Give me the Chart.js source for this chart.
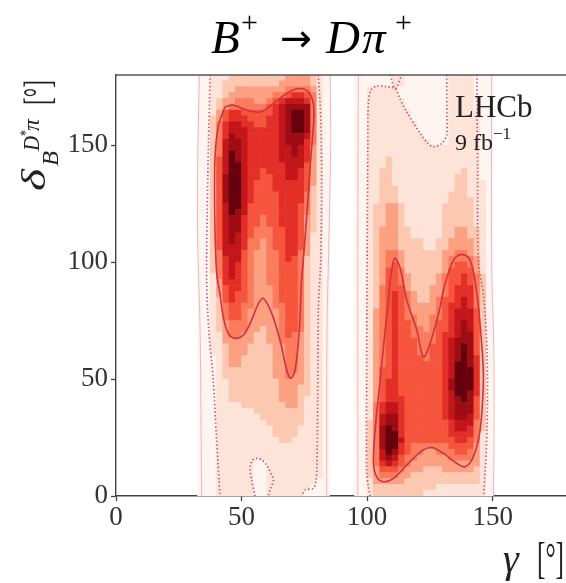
<!DOCTYPE html>
<html>
<head>
<meta charset="utf-8">
<script src="https://cdn.jsdelivr.net/npm/chart.js@4.4.1/dist/chart.umd.min.js"></script>
<style>
  html, body { margin: 0; padding: 0; background: #fff; overflow: hidden; }
  #wrap { width: 570px; height: 583px; }
</style>
</head>
<body>
<div id="wrap"><canvas id="chart" width="570" height="583"></canvas></div>
<script>
'use strict';

// ── axes ──
const gammaRange = [0, 180];
const deltaRange = [0, 180];
const tickValues = [0, 50, 100, 150];

// ── likelihood map ──
// one string per 2.5° row of delta, top row (177.5–180) first,
// one char per 2.5° column of gamma; 0–9 = density level
const cellSize = 2.5;
const leftBlobStart = 32.5;   // gamma of first column
const leftBlobRows = [
  '001112222222223333210', '001122222222233333210', '001122333333334444310', '001123333333445665410',
  '001233444334567776410', '001234444445678888410', '001356655555678998410', '002356665556678998410',
  '002467766556678998410', '002467776666678998410', '002468776666678887410', '002478876666678886410',
  '002478876666677876310', '002479876666677876310', '002579876666677776310', '002579976666667775310',
  '002579976656667765310', '002589976655667765310', '002589976555666665310', '002589976555666665210',
  '002589976555566664210', '002589976555566664210', '002579975555566654210', '002579875555566654210',
  '002578865545566653210', '002578865545566653210', '002578865444556653210', '002578765444556653110',
  '002578764434556653110', '002577764434556653110', '002477754334456643110', '002467754334456542110',
  '002467654334455542110', '002467654334455542110', '001467654334455542110', '001366654334455542110',
  '001356654333455542110', '001356554333455542110', '001256554333455542110', '001245544333445542110',
  '001245543333345542110', '001245543333345542110', '001234443333345542110', '001234443323345542110',
  '001134433223345432110', '001133333223344432110', '001123332222334432110', '001123332222334432110',
  '000123322222334432110', '000123322222334432110', '000122222222334432110', '000122222222334332110',
  '000112222222233332110', '000112222222233322110', '000112222222233322110', '000112222222233321110',
  '000111122222223321110', '000111111222222221110', '000111111122222221110', '000111111112222221110',
  '000111111111222211110', '000111111111222211110', '000111111111122111110', '000111111111111111110',
  '000111111111111111110', '000111111111111111110', '000111111001111111110', '000111111001111111110',
  '000111111001111111110', '000111111001111111100', '000111111001111111000', '000111111001111110000',
];
const rightBlobStart = 95;
const rightBlobRows = [
  '0000001100000001111000', '0000001100000001111000', '0011111000000001111000', '0011111000000001111000',
  '0011111100000001111000', '0011111100000001111000', '0011111110000001111100', '0011111110000001111100',
  '0011111111000001111100', '0011111111000001111100', '0011111111100001111100', '0011111111110001111100',
  '0011111111111111111100', '0011111111111111111100', '0011121111111111111100', '0011121111111111111100',
  '0011221111111111121100', '0011221111111111221100', '0011221111111111221110', '0011222111111111221110',
  '0011222111111112221110', '0011222111111112222110', '0012233211111122222110', '0012233211111122222110',
  '0012233211111122222110', '0012233211111122222110', '0012333221111122332210', '0012333221111122332210',
  '0012333222211223333210', '0012333222211223333210', '0012344322222233443210', '0012344322222234444310',
  '0012345322222234554310', '0012355422222235555310', '0012355432222345565420', '0012355432222345565420',
  '0012455532223345666420', '0012456543223345666420', '0012456543223455676420', '0012456543333456676420',
  '0013456543333456777520', '0013456544334456777520', '0013456554334556787520', '0013456554434556787520',
  '0013456554444566788520', '0013456555444567888520', '0013456555445567898520', '0013456555445567898520',
  '0013456555545567898620', '0013456555555567998620', '0013556555555567999620', '0013556555555567999620',
  '0013566555555568999620', '0013566555555568999620', '0013566555555567998620', '0013566655555567898520',
  '0014677655555567888520', '0014677655555567888520', '0014788655555567887520', '0024788655555556777420',
  '0024898655555556776420', '0024899655555556666410', '0024899755555555665410', '0024899654444445555310',
  '0024798654433444554310', '0024787544333334444310', '0024676543333333333310', '0023555433322233333210',
  '0023444332222222222210', '0013333322222222222210', '0012222222222111111110', '0012222222211111111110',
];
// matplotlib "Reds" sampled at 10 steps
const levelColors = ['#fff5f0','#fee4d8','#fcc8b1','#fca082','#fb7c5c',
                     '#f6553d','#e32f27','#c3161b','#9e0d14','#67000d'];

// ── contours, [gamma, delta] ──
const c1LeftBlob = [[43.4,166.4],[46.7,167.1],[52,165],[57.4,164.2],[62.7,167.8],[68,172.1],[72.6,174.2],
  [76.6,172.8],[78.6,167.8],[78.8,162],[78.6,157.8],[77.6,145],[76.6,129.4],[75.6,115],[74.6,100.9],
  [73.9,92.3],[73,70.9],[71.3,53.8],[69.6,50.3],[68,53.8],[65.3,66.7],[62,78.1],[58.7,84.5],[56.7,82.3],
  [54,75.2],[50.7,68.8],[47.4,67.4],[44.7,69.5],[42.7,76.6],[41.4,86.6],[40.1,95.2],[39.4,115.1],
  [39.4,143.6],[40.7,157.8],[43.4,166.4]];
const c1RightBlob = [[109.2,92.3],[108.5,83.8],[107.2,70.9],[105.2,49.6],[103.2,28.2],[102.5,14],[103.8,8.2],
  [106.5,6.1],[110.5,7.5],[117.1,14.7],[122.4,19.7],[125.8,20.7],[130.4,18.2],[135.7,14],[139,12.5],
  [142.3,16.8],[145,28.2],[146.3,49.6],[145.7,63.8],[143.7,86.6],[141,100.9],[137.7,103.3],[134.4,100.9],
  [130.4,88],[129.1,80.9],[125.1,65.3],[122.4,59.5],[119.8,70.9],[115.8,83.8],[113,98],[110.9,101.6],
  [109.2,92.3]];
const c2Lines = [
  [[37.5,180],[36.8,150],[36.3,120],[36.1,92],[37,70],[38.7,50],[40,25],[41.4,0]],
  [[80.6,180],[81.6,160],[81.9,130],[81.5,100],[80.6,80],[80.3,40],[80,12],[79.6,6],[78.6,3.3],[75.3,2.6],[74,0]],
  [[55.4,0],[54,6.8],[53.4,12],[54.5,15.5],[56,16.1],[58,15.5],[60,13.2],[62,9],[62.7,6.8],[61.5,3],[60.6,0]],
  [[101.2,0],[100.5,4],[99.8,10],[99.8,50],[100,100],[100.3,150],[100.5,168],[101.5,173.5],[103.8,175.3],
   [107.5,175],[111.2,174.2],[113,170],[115.8,164.2],[121.1,155],[124,151],[126.4,149.3],[129.7,150.7],
   [131.7,154.3],[131.8,162],[131.7,180]],
  [[109.2,180],[111.2,174.2],[113.8,180]],
  [[143.7,180],[144,140],[144.3,100],[146.5,85],[147.8,60],[147.8,30],[147,10],[146.3,0]],
];
const c3Lines = [
  [[33.2,180],[32.5,140],[32.5,110],[33.5,70],[34.1,0]],
  [[85.3,180],[85.5,150],[84.8,110],[84,70],[83.9,0]],
  [[96.5,180],[96.3,100],[96.3,0]],
  [[149.6,180],[149.6,100],[150.5,60],[150.5,20],[150.3,0]],
];

// ── build the cells ──
const cells = [], cellColors = [];
function addBlob(rows, g0) {
  rows.forEach((row, r) => {
    const dMid = deltaRange[1] - (r + 0.5) * cellSize;
    [...row].forEach((ch, c) => {
      const gLo = g0 + c * cellSize;
      cells.push({ y: dMid, x: [gLo, gLo + cellSize] });
      cellColors.push(levelColors[+ch]);
    });
  });
}
addBlob(leftBlobRows, leftBlobStart);
addBlob(rightBlobRows, rightBlobStart);

const toPts = arr => arr.map(([x, y]) => ({ x, y }));
const lineSet = (pts, color, width, dash, tension) => ({
  type: 'line', data: toPts(pts), borderColor: color, borderWidth: width,
  borderDash: dash, pointRadius: 0, fill: false, tension, order: 0
});

const datasets = [
  ...c3Lines.map(l => lineSet(l, '#f2b3c0', 1, [], 0.3)),
  ...c2Lines.map(l => lineSet(l, '#c64a6e', 1.7, [1.3, 2.4], 0.3)),
  lineSet(c1LeftBlob, '#cf3242', 1.6, [], 0.35),
  lineSet(c1RightBlob, '#cf3242', 1.6, [], 0.35),
  { type: 'bar', data: cells, backgroundColor: cellColors, borderWidth: 0,
    barPercentage: 1, categoryPercentage: 1, order: 10 }
];

// ── texts drawn on the canvas ──
const SERIF = '"Liberation Serif", "DejaVu Serif", serif';
// draw text squeezed/stretched to a given advance width
function fitText(ctx, txt, font, x, y, w) {
  ctx.font = font;
  const m = ctx.measureText(txt).width;
  ctx.save(); ctx.translate(x, y); ctx.scale(w / m, 1); ctx.fillText(txt, 0, 0); ctx.restore();
}

const decor = {
  id: 'decor',
  beforeDraw(chart) {
    const ctx = chart.ctx;
    ctx.save(); ctx.fillStyle = '#fff'; ctx.fillRect(0, 0, chart.width, chart.height); ctx.restore();
  },
  afterDraw(chart) {
    const { ctx, chartArea: a } = chart;
    ctx.save();
    // top frame line
    ctx.strokeStyle = '#555'; ctx.lineWidth = 1.4;
    ctx.beginPath(); ctx.moveTo(a.left, a.top); ctx.lineTo(a.right, a.top); ctx.lineTo(a.right, a.bottom); ctx.stroke();

    ctx.fillStyle = '#000'; ctx.textBaseline = 'alphabetic'; ctx.textAlign = 'left';
    // title
    ctx.font = `italic 47px ${SERIF}`; ctx.fillText('B', 211, 53);
    ctx.font = `30px ${SERIF}`; ctx.fillText('+', 241, 32);
    ctx.font = '38px "DejaVu Sans"'; ctx.fillText('→', 280, 51);
    ctx.font = `italic 47px ${SERIF}`; ctx.fillText('D', 326, 53); ctx.fillText('π', 362, 53);
    ctx.font = `30px ${SERIF}`; ctx.fillText('+', 395, 32);

    // LHCb label
    ctx.fillStyle = '#222';
    ctx.font = `31px ${SERIF}`; ctx.fillText('LHCb', 455, 117);
    ctx.font = `24px ${SERIF}`; ctx.fillText('9 fb', 455, 150);
    ctx.font = `17px ${SERIF}`; ctx.fillText('−1', 493, 139);

    // x title
    ctx.font = `italic 40px ${SERIF}`; ctx.fillText('γ', 503, 572);
    fitText(ctx, '[°]', `44px ${SERIF}`, 537, 573, 27);

    // y title (rotated, reads bottom to top)
    ctx.translate(45, 193); ctx.rotate(-Math.PI / 2);
    fitText(ctx, 'δ', `italic 34px ${SERIF}`, 2, 0, 22);
    fitText(ctx, 'B', `italic 23px ${SERIF}`, 27, 13, 15);
    fitText(ctx, 'D', `italic 23px ${SERIF}`, 42, -6, 15);
    fitText(ctx, '*', `17px ${SERIF}`, 57, -14, 6);
    fitText(ctx, 'π', `italic 23px ${SERIF}`, 62, -6, 12);
    fitText(ctx, '[°]', `38px ${SERIF}`, 88, 5, 25);
    ctx.restore();
  }
};

const tickFont = { family: SERIF, size: 27 };
new Chart(document.getElementById('chart'), {
  type: 'bar',
  data: { datasets },
  options: {
    responsive: false, animation: false, events: [],
    indexAxis: 'y',
    layout: { padding: { top: 75, left: 0, right: 2, bottom: 0 } },
    plugins: { legend: { display: false }, tooltip: { enabled: false } },
    scales: {
      x: {
        type: 'linear', min: gammaRange[0], max: gammaRange[1], offset: false,
        afterBuildTicks: s => { s.ticks = tickValues.map(v => ({ value: v })); },
        afterFit: s => { s.height = 87; },
        ticks: { font: tickFont, color: '#333', padding: 1, maxRotation: 0 },
        grid: { drawOnChartArea: false, offset: false, tickLength: 5, tickColor: '#444', tickWidth: 1.3 },
        border: { color: '#444', width: 1.4 }
      },
      y: {
        type: 'linear', min: deltaRange[0], max: deltaRange[1], offset: false,
        afterBuildTicks: s => { s.ticks = tickValues.map(v => ({ value: v })); },
        afterFit: s => { s.width = 116; },
        ticks: { font: tickFont, color: '#333', padding: 3 },
        grid: { drawOnChartArea: false, offset: false, tickLength: 5, tickColor: '#444', tickWidth: 1.3 },
        border: { color: '#444', width: 1.4 }
      }
    }
  },
  plugins: [decor]
});
</script>
</body>
</html>
